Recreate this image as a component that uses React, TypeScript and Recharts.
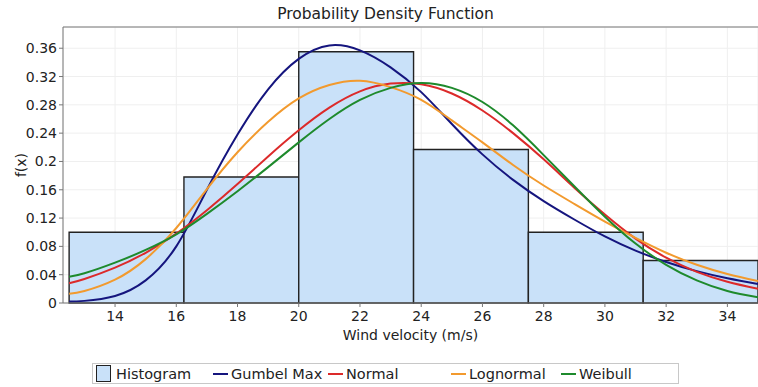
import { CartesianGrid, ComposedChart, Line, ReferenceArea, ReferenceLine, XAxis, YAxis } from 'recharts';

// histogram bins (wind velocity, m/s) and their densities
const binEdges = [12.5, 16.25, 20, 23.75, 27.5, 31.25, 35];
const binDensity = [0.1, 0.178, 0.355, 0.217, 0.1, 0.06];

const velocity = [12.5, 13, 14, 15, 16, 17, 18, 19, 20, 21, 22, 23, 24, 25, 26, 27, 28, 29, 30, 31, 32, 33, 34, 35];
const gumbelMax = [0.002, 0.003, 0.01, 0.032, 0.08, 0.16, 0.238, 0.302, 0.345, 0.364, 0.357, 0.333, 0.298, 0.253, 0.21, 0.174, 0.144, 0.118, 0.094, 0.074, 0.058, 0.045, 0.035, 0.027];
const normal = [0.028, 0.034, 0.05, 0.071, 0.098, 0.131, 0.168, 0.207, 0.244, 0.276, 0.299, 0.31, 0.309, 0.296, 0.272, 0.24, 0.203, 0.163, 0.125, 0.091, 0.064, 0.044, 0.03, 0.02];
const lognormal = [0.013, 0.017, 0.033, 0.062, 0.106, 0.161, 0.213, 0.256, 0.289, 0.308, 0.314, 0.305, 0.287, 0.258, 0.227, 0.195, 0.166, 0.14, 0.115, 0.092, 0.071, 0.054, 0.041, 0.031];
const weibull = [0.037, 0.042, 0.057, 0.075, 0.097, 0.126, 0.158, 0.192, 0.227, 0.26, 0.287, 0.304, 0.311, 0.304, 0.284, 0.251, 0.209, 0.165, 0.122, 0.084, 0.054, 0.032, 0.017, 0.008];

const xTicks = [14, 16, 18, 20, 22, 24, 26, 28, 30, 32, 34];
const yTicks = [0, 0.04, 0.08, 0.12, 0.16, 0.2, 0.24, 0.28, 0.32, 0.36];
const xMinorTicks = Array.from({ length: 45 }, (_, i) => 12.5 + i * 0.5);
const yMinorTicks = Array.from({ length: 49 }, (_, i) => i * 0.008);

const FONT = '"DejaVu Sans", sans-serif';
const HIST_FILL = '#c9e1f9';
const AXIS = '#777';

const toPoints = (ys: number[]) => velocity.map((x, i) => ({ x, y: ys[i] }));

const curves = [
  { name: 'Gumbel Max', color: '#15157e', data: toPoints(gumbelMax) },
  { name: 'Normal', color: '#dc2a2a', data: toPoints(normal) },
  { name: 'Lognormal', color: '#f29a2e', data: toPoints(lognormal) },
  { name: 'Weibull', color: '#1e8a2c', data: toPoints(weibull) },
];

const legendWidths = [117, 115, 123, 110, 110];

const NoLabel = () => <g />;

const App = () => {
  return (
    <div style={{ position: 'absolute', left: 0, top: 0, width: 758, height: 387, background: '#fff', fontFamily: FONT }}>
      <div
        style={{
          position: 'absolute',
          left: 265,
          top: 5,
          width: 241,
          textAlign: 'center',
          fontSize: 15.5,
          color: '#222',
          whiteSpace: 'nowrap',
        }}
      >
        Probability Density Function
      </div>
      <ComposedChart
        width={758}
        height={387}
        margin={{ top: 27, right: 0, bottom: 0, left: 0 }}
      >
        <CartesianGrid stroke='#efefef' strokeWidth={1} />
        <XAxis
          xAxisId='minor'
          type='number'
          domain={[12.3, 35]}
          ticks={xMinorTicks}
          interval={0}
          allowDataOverflow
          height={0}
          tickSize={2}
          tick={NoLabel}
          axisLine={false}
          stroke={AXIS}
        />
        <XAxis
          type='number'
          dataKey='x'
          domain={[12.3, 35]}
          ticks={xTicks}
          interval={0}
          allowDataOverflow
          height={84}
          tickSize={4}
          tickMargin={4}
          stroke={AXIS}
          tick={{ fill: '#222', fontSize: 14, fontFamily: FONT }}
          label={{ value: 'Wind velocity (m/s)', position: 'insideTop', offset: 27, fill: '#222', fontSize: 14, fontFamily: FONT }}
        />
        <YAxis
          yAxisId='minor'
          type='number'
          domain={[0, 0.39]}
          ticks={yMinorTicks}
          interval={0}
          allowDataOverflow
          width={0}
          tickSize={2}
          tick={NoLabel}
          axisLine={false}
          stroke={AXIS}
        />
        <YAxis
          type='number'
          domain={[0, 0.39]}
          ticks={yTicks}
          interval={0}
          allowDataOverflow
          width={63}
          tickSize={4}
          tickMargin={2}
          stroke={AXIS}
          tickFormatter={(v: number) => String(Number(v.toFixed(2)))}
          tick={{ fill: '#222', fontSize: 14, fontFamily: FONT }}
          label={{ value: 'f(x)', angle: -90, position: 'insideLeft', offset: 21, fill: '#222', fontSize: 14, fontFamily: FONT, style: { textAnchor: 'middle' } }}
        />
        <ReferenceLine y={0.39} stroke={AXIS} />
        {binDensity.map((d, i) => (
          <ReferenceArea
            key={i}
            x1={binEdges[i]}
            x2={binEdges[i + 1]}
            y1={0}
            y2={d}
            fill={HIST_FILL}
            fillOpacity={1}
            stroke='#222'
            strokeWidth={1.4}
          />
        ))}
        {curves.map((c) => (
          <Line
            key={c.name}
            data={c.data}
            dataKey='y'
            name={c.name}
            type='natural'
            stroke={c.color}
            strokeWidth={2}
            dot={false}
            isAnimationActive={false}
          />
        ))}
      </ComposedChart>
      <div
        style={{
          position: 'absolute',
          left: 92,
          top: 363,
          width: 587,
          height: 21,
          border: '1px solid #c8c8c8',
          display: 'flex',
          alignItems: 'center',
          fontSize: 14.5,
          color: '#222',
          boxSizing: 'border-box',
          paddingLeft: 3,
        }}
      >
        <div style={{ width: legendWidths[0], display: 'flex', alignItems: 'center' }}>
          <span style={{ display: 'inline-block', width: 13, height: 15, background: HIST_FILL, border: '1px solid #222', marginRight: 5 }} />
          Histogram
        </div>
        {curves.map((c, i) => (
          <div key={c.name} style={{ width: legendWidths[i + 1], display: 'flex', alignItems: 'center', whiteSpace: 'nowrap' }}>
            <span style={{ display: 'inline-block', width: 15, height: 2, background: c.color, marginRight: 3 }} />
            {c.name}
          </div>
        ))}
      </div>
    </div>
  );
};

export default App;
